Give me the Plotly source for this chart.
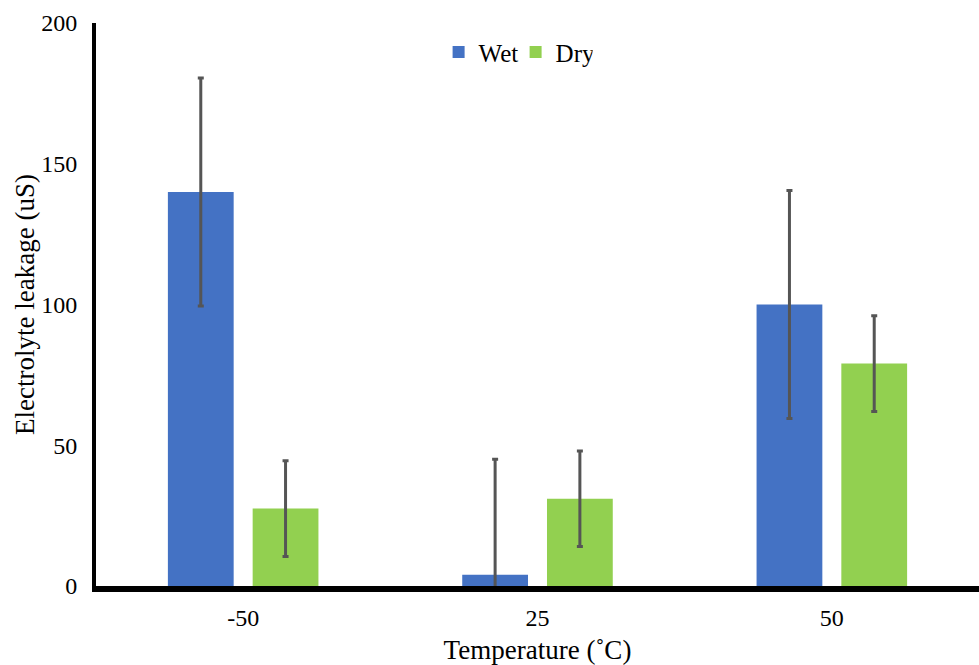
import plotly.graph_objects as go

categories = ["-50", "25", "50"]
wet_values = [140, 4, 100]
wet_errors = [40.5, 41, 40.5]
dry_values = [27.5, 31, 79]
dry_errors = [17, 17, 17]

FONT = "Liberation Serif, Times New Roman, serif"

fig = go.Figure()
fig.add_trace(go.Bar(
    name="Wet", x=categories, y=wet_values,
    marker=dict(color="#4472C4", line=dict(width=0)),
    error_y=dict(type="data", array=wet_errors, color="#555555", thickness=3, width=3),
))
fig.add_trace(go.Bar(
    name="Dry", x=categories, y=dry_values,
    marker=dict(color="#92D050", line=dict(width=0)),
    error_y=dict(type="data", array=dry_errors, color="#555555", thickness=3, width=3),
))

fig.update_layout(
    width=979, height=665,
    margin=dict(l=96, r=0, t=23, b=76),
    plot_bgcolor="white", paper_bgcolor="white",
    barmode="group", bargap=0.424, bargroupgap=0.224,
    font=dict(family=FONT, size=24, color="black"),
    legend=dict(orientation="h", x=0.388, y=0.948, xanchor="left", yanchor="middle",
                font=dict(family=FONT, size=25), itemwidth=30,
                entrywidth=32, entrywidthmode="pixels", bgcolor="rgba(0,0,0,0)"),
    xaxis=dict(
        showline=True, linecolor="black", linewidth=6, showgrid=False,
        ticks="", ticklabelstandoff=5,
        title=dict(text="Temperature (˚C)", standoff=15, font=dict(family=FONT, size=27)),
        tickfont=dict(family=FONT, size=24),
    ),
    yaxis=dict(
        range=[0, 200], tickvals=[0, 50, 100, 150, 200],
        showline=True, linecolor="black", linewidth=4, showgrid=False, zeroline=False,
        ticks="", ticklabelstandoff=10,
        title=dict(text="Electrolyte leakage (uS)", standoff=0, font=dict(family=FONT, size=27)),
        tickfont=dict(family=FONT, size=24),
    ),
)

fig.write_html("out.html", config={"displayModeBar": False},
               post_script="document.body.style.margin='0';document.body.style.overflow='hidden';")
